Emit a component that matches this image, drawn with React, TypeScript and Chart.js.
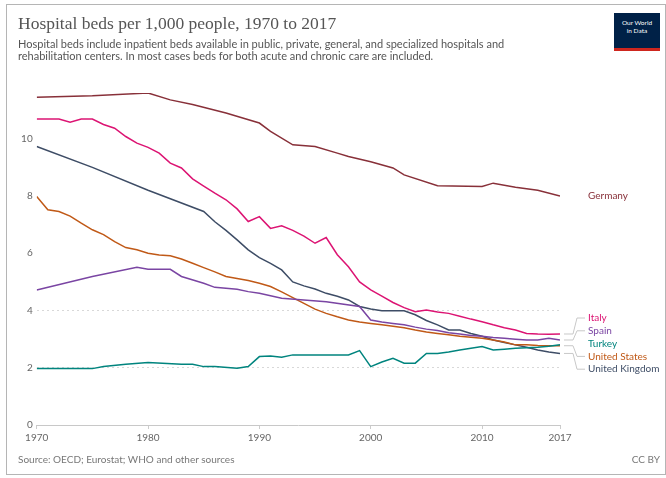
import React, { useEffect, useRef } from "react";
import { Chart, registerables } from "chart.js";
Chart.register(...registerables);

const xTickYears = [1970, 1980, 1990, 2000, 2010, 2017];
const yTickValues = [0, 2, 4, 6, 8, 10];
const visibleGridValues = [2, 4];

const germany: [number, number][] = [
  [1970, 11.45], [1975, 11.5], [1980, 11.6], [1982, 11.36], [1984, 11.2], [1987, 10.9],
  [1990, 10.55], [1991, 10.26], [1993, 9.79], [1995, 9.73], [1997, 9.5], [1998, 9.38],
  [2000, 9.2], [2002, 8.98], [2003, 8.74], [2006, 8.36], [2010, 8.33], [2011, 8.45],
  [2013, 8.31], [2015, 8.2], [2017, 8.0],
];
const italy: [number, number][] = [
  [1970, 10.69], [1972, 10.69], [1973, 10.58], [1974, 10.69], [1975, 10.69], [1976, 10.5],
  [1977, 10.37], [1978, 10.08], [1979, 9.85], [1980, 9.7], [1981, 9.5], [1982, 9.15],
  [1983, 8.98], [1984, 8.6], [1985, 8.35], [1986, 8.1], [1987, 7.87], [1988, 7.55],
  [1989, 7.11], [1990, 7.28], [1991, 6.87], [1992, 6.96], [1993, 6.8], [1994, 6.6],
  [1995, 6.35], [1996, 6.55], [1997, 5.95], [1998, 5.53], [1999, 5.0], [2000, 4.72],
  [2001, 4.5], [2002, 4.28], [2003, 4.1], [2004, 3.96], [2005, 4.02], [2006, 3.95],
  [2007, 3.9], [2008, 3.8], [2009, 3.7], [2010, 3.61], [2011, 3.5], [2012, 3.4],
  [2013, 3.32], [2014, 3.2], [2015, 3.18], [2016, 3.17], [2017, 3.18],
];
const spain: [number, number][] = [
  [1970, 4.72], [1975, 5.19], [1979, 5.51], [1980, 5.44], [1982, 5.44], [1983, 5.19],
  [1985, 4.95], [1986, 4.81], [1988, 4.74], [1989, 4.66], [1990, 4.6], [1992, 4.43],
  [1996, 4.31], [1999, 4.14], [2000, 3.67], [2001, 3.6], [2002, 3.55], [2003, 3.5],
  [2004, 3.42], [2005, 3.35], [2006, 3.3], [2007, 3.22], [2008, 3.18], [2009, 3.13],
  [2010, 3.1], [2011, 3.06], [2012, 3.03], [2013, 3.0], [2014, 2.97], [2015, 2.97],
  [2016, 3.03], [2017, 2.97],
];
const turkey: [number, number][] = [
  [1970, 1.97], [1975, 1.97], [1976, 2.04], [1978, 2.12], [1980, 2.18], [1983, 2.12],
  [1984, 2.12], [1985, 2.04], [1986, 2.04], [1988, 1.98], [1989, 2.04], [1990, 2.39],
  [1991, 2.41], [1992, 2.37], [1993, 2.45], [1994, 2.45], [1995, 2.45], [1996, 2.45],
  [1997, 2.45], [1998, 2.45], [1999, 2.6], [2000, 2.04], [2001, 2.2], [2002, 2.33],
  [2003, 2.16], [2004, 2.16], [2005, 2.5], [2006, 2.5], [2007, 2.55], [2008, 2.62],
  [2009, 2.68], [2010, 2.74], [2011, 2.62], [2012, 2.65], [2013, 2.68], [2014, 2.7],
  [2015, 2.72], [2016, 2.75], [2017, 2.8],
];
const unitedStates: [number, number][] = [
  [1970, 7.98], [1971, 7.52], [1972, 7.46], [1973, 7.3], [1974, 7.05], [1975, 6.82],
  [1976, 6.65], [1977, 6.41], [1978, 6.2], [1979, 6.12], [1980, 6.0], [1981, 5.94],
  [1982, 5.91], [1983, 5.8], [1984, 5.65], [1985, 5.5], [1986, 5.35], [1987, 5.19],
  [1988, 5.12], [1989, 5.05], [1990, 4.95], [1991, 4.84], [1992, 4.65], [1993, 4.45],
  [1994, 4.25], [1995, 4.05], [1996, 3.9], [1997, 3.78], [1998, 3.67], [1999, 3.6],
  [2000, 3.55], [2001, 3.5], [2002, 3.45], [2003, 3.4], [2004, 3.32], [2005, 3.25],
  [2006, 3.2], [2007, 3.15], [2008, 3.1], [2009, 3.07], [2010, 3.03], [2011, 2.97],
  [2012, 2.9], [2013, 2.8], [2014, 2.8], [2015, 2.78], [2016, 2.77], [2017, 2.77],
];
const unitedKingdom: [number, number][] = [
  [1970, 9.73], [1975, 9.0], [1980, 8.2], [1985, 7.46], [1986, 7.1], [1987, 6.8],
  [1988, 6.47], [1989, 6.12], [1990, 5.85], [1991, 5.65], [1992, 5.42], [1993, 5.0],
  [1994, 4.86], [1995, 4.75], [1996, 4.6], [1997, 4.5], [1998, 4.37], [1999, 4.14],
  [2000, 4.05], [2001, 3.99], [2002, 3.99], [2003, 3.99], [2004, 3.85], [2005, 3.65],
  [2006, 3.5], [2007, 3.32], [2008, 3.32], [2009, 3.2], [2010, 3.1], [2011, 2.97],
  [2012, 2.88], [2013, 2.8], [2014, 2.72], [2015, 2.62], [2016, 2.55], [2017, 2.5],
];

const seriesNames = ["Germany", "Italy", "Spain", "Turkey", "United States", "United Kingdom"];
const seriesData = [germany, italy, spain, turkey, unitedStates, unitedKingdom];
const seriesColors = ["#883039", "#dc1473", "#7a45a3", "#00847e", "#c05917", "#3e4d66"];

const endLabelPlugin = {
  id: "endLabels",
  afterDatasetsDraw(chart: any) {
    const ctx = chart.ctx;
    const area = chart.chartArea;
    const items: { name: string; color: string; endY: number; y: number }[] = [];
    chart.data.datasets.forEach((ds: any, i: number) => {
      const meta = chart.getDatasetMeta(i);
      const last = meta.data[meta.data.length - 1];
      items.push({ name: ds.label, color: ds.borderColor, endY: last.y, y: last.y });
    });
    const sorted = [...items].sort((a, b) => a.endY - b.endY);
    const gap = 12.8;
    const groups: any[][] = [];
    sorted.forEach((it) => {
      const g = groups[groups.length - 1];
      if (g && it.endY - g[g.length - 1].endY < gap) g.push(it);
      else groups.push([it]);
    });
    groups.forEach((g) => {
      const mean = g.reduce((s, it) => s + it.endY, 0) / g.length;
      const start = mean - ((g.length - 1) * gap) / 2;
      g.forEach((it, k) => (it.y = start + k * gap));
    });
    ctx.save();
    ctx.font = "10px Lato, sans-serif";
    ctx.textBaseline = "middle";
    ctx.textAlign = "left";
    const lx = area.right + 28;
    items.forEach((it) => {
      if (Math.abs(it.y - it.endY) > 1.5) {
        ctx.strokeStyle = "#c8c8c8";
        ctx.lineWidth = 1;
        ctx.beginPath();
        ctx.moveTo(area.right + 4, it.endY);
        ctx.lineTo(area.right + 13, it.endY);
        ctx.lineTo(area.right + 17, it.y);
        ctx.lineTo(area.right + 25, it.y);
        ctx.stroke();
      }
      ctx.fillStyle = it.color;
      ctx.fillText(it.name, lx, it.y);
    });
    ctx.restore();
  },
};

export default function App() {
  const canvasRef = useRef<HTMLCanvasElement | null>(null);
  useEffect(() => {
    if (!canvasRef.current) return;
    const chart = new Chart(canvasRef.current, {
      type: "line",
      data: {
        datasets: seriesNames.map((name, i) => ({
          label: name,
          data: seriesData[i].map(([x, y]) => ({ x, y })),
          borderColor: seriesColors[i],
          backgroundColor: seriesColors[i],
          borderWidth: 1.5,
          pointRadius: 0,
          tension: 0,
          fill: false,
        })),
      },
      options: {
        animation: false,
        responsive: false,
        events: [],
        layout: { padding: { left: 0, right: 106, top: 93, bottom: 0 } },
        plugins: { legend: { display: false }, tooltip: { enabled: false } },
        scales: {
          x: {
            type: "linear",
            min: 1970,
            max: 2017,
            afterBuildTicks: (s: any) => {
              s.ticks = xTickYears.map((v) => ({ value: v }));
            },
            afterFit: (s: any) => {
              s.height = 53;
            },
            ticks: {
              callback: (v: any) => String(v),
              color: "#666",
              font: { family: "Lato, sans-serif", size: 10 },
              padding: 3,
              maxRotation: 0,
              autoSkip: false,
            },
            grid: { display: true, drawOnChartArea: false, drawTicks: true, tickLength: 4, color: "#ccc" },
            border: { display: true, color: "#c8c8c8", width: 1 },
          },
          y: {
            type: "linear",
            min: 0,
            max: 11.6,
            afterBuildTicks: (s: any) => {
              s.ticks = yTickValues.map((v) => ({ value: v }));
            },
            afterFit: (s: any) => {
              s.width = 36.7;
            },
            ticks: {
              color: "#666",
              font: { family: "Lato, sans-serif", size: 10 },
              padding: 4,
            },
            grid: {
              drawTicks: false,
              color: (c: any) =>
                c.tick && visibleGridValues.includes(c.tick.value) ? "#d8d8d8" : "rgba(0,0,0,0)",
              lineWidth: 1,
            },
            border: { display: false, dash: [2, 3] },
          },
        },
      },
      plugins: [endLabelPlugin],
    } as any);
    return () => chart.destroy();
  }, []);

  return (
    <div style={{ position: "absolute", left: 0, top: 0, width: 666, height: 478, background: "#fff", overflow: "hidden" }}>
      <div
        style={{
          position: "absolute",
          left: 6,
          top: 4,
          width: 660,
          height: 471,
          border: "1px solid #b5b5b5",
          boxSizing: "border-box",
        }}
      />
      <canvas ref={canvasRef} width={666} height={478} style={{ position: "absolute", left: 0, top: 0 }} />
      <div
        style={{
          position: "absolute",
          left: 18,
          top: 13,
          fontFamily: "'Liberation Serif', serif",
          fontSize: 17.5,
          color: "#555",
          whiteSpace: "nowrap",
        }}
      >
        Hospital beds per 1,000 people, 1970 to 2017
      </div>
      <div
        style={{
          position: "absolute",
          left: 18,
          top: 38,
          width: 560,
          fontFamily: "Lato, sans-serif",
          fontSize: 11,
          lineHeight: "12px",
          color: "#555",
          whiteSpace: "nowrap",
        }}
      >
        Hospital beds include inpatient beds available in public, private, general, and specialized hospitals and
        <br />
        rehabilitation centers. In most cases beds for both acute and chronic care are included.
      </div>
      <div
        style={{
          position: "absolute",
          left: 614,
          top: 13,
          width: 46,
          height: 29,
          background: "#002147",
          borderBottom: "3px solid #ce261e",
          color: "#fff",
          fontFamily: "Lato, sans-serif",
          fontSize: 6.5,
          lineHeight: "8px",
          textAlign: "center",
          paddingTop: 6,
          boxSizing: "content-box",
        }}
      >
        Our World
        <br />
        in Data
      </div>
      <div
        style={{
          position: "absolute",
          left: 18,
          top: 453,
          fontFamily: "Lato, sans-serif",
          fontSize: 10,
          color: "#777",
          whiteSpace: "nowrap",
        }}
      >
        Source: OECD; Eurostat; WHO and other sources
      </div>
      <div
        style={{
          position: "absolute",
          right: 6,
          top: 453,
          fontFamily: "Lato, sans-serif",
          fontSize: 10,
          color: "#777",
          whiteSpace: "nowrap",
        }}
      >
        CC BY
      </div>
    </div>
  );
}
